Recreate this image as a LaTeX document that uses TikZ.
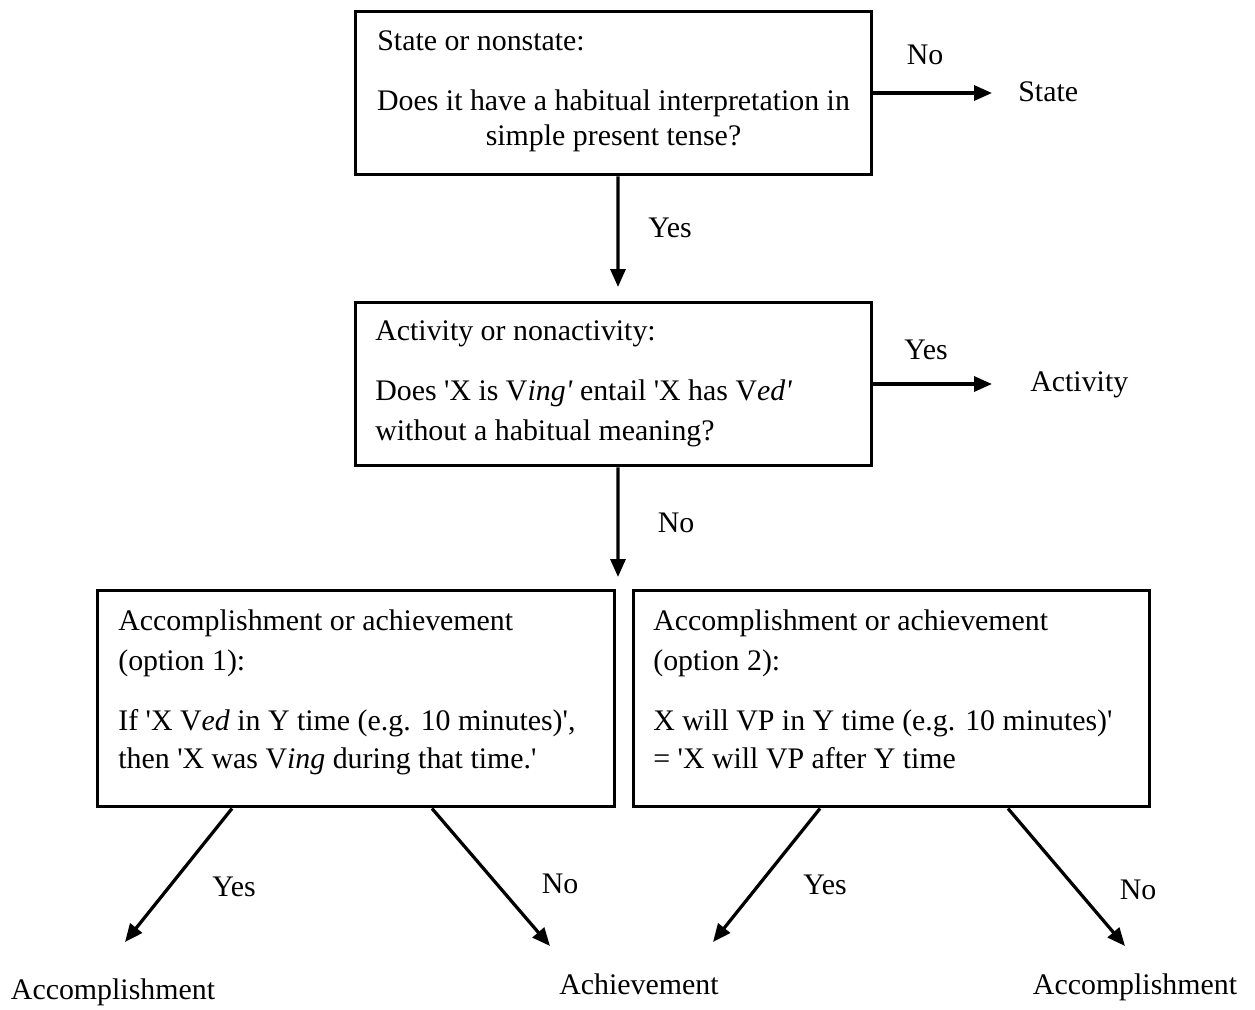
\documentclass[tikz,border=0pt]{standalone}
\usepackage{fontspec}
\setmainfont{Liberation Serif}
\usetikzlibrary{arrows.meta}
\newcommand\sq{\textquotesingle}
\begin{document}
\begin{tikzpicture}[x=0.02cm,y=-0.02cm,
  box/.style={draw,line width=0.06cm,minimum width=10.34cm,inner sep=0pt},
  txt/.style={inner sep=0pt,font=\fontsize{17}{20}\selectfont},
  arr/.style={line width=0.065cm,-{Triangle[length=0.36cm,width=0.3cm]}}]
\useasboundingbox (0,0) rectangle (1255,1009);
% boxes
\node[box,minimum height=3.28cm] (b1) at (613.5,93) {};
\node[box,minimum height=3.28cm] (b2) at (613.5,384) {};
\node[box,minimum height=4.34cm,minimum width=10.36cm] (b3) at (356,698.5) {};
\node[box,minimum height=4.34cm] (b4) at (891.5,698.5) {};
% box 1 text
\node[txt,anchor=base west] (t1a) at (377,50) {State or nonstate:};
\node[txt,anchor=base] (t1b) at (613.5,110) {Does it have a habitual interpretation in};
\node[txt,anchor=base] (t1c) at (613.5,145) {simple present tense?};
% box 2 text
\node[txt,anchor=base west] (t2a) at (375,340) {Activity or nonactivity:};
\node[txt,anchor=base west] (t2b) at (375,400) {Does \sq X is V\textit{ing\sq} entail \sq X has V\textit{ed\sq}};
\node[txt,anchor=base west] (t2c) at (375,440) {without a habitual meaning?};
% box 3 text
\node[txt,anchor=base west] (t3a) at (118,630) {Accomplishment or achievement};
\node[txt,anchor=base west] (t3b) at (118,670) {(option 1):};
\node[txt,anchor=base west] (t3c) at (118,730) {If \sq X V\textit{ed} in Y time (e.g. 10 minutes)\sq,};
\node[txt,anchor=base west] (t3d) at (118,768) {then \sq X was V\textit{ing} during that time.\sq};
% box 4 text
\node[txt,anchor=base west] (t4a) at (653,630) {Accomplishment or achievement};
\node[txt,anchor=base west] (t4b) at (653,670) {(option 2):};
\node[txt,anchor=base west] (t4c) at (653,730) {X will VP in Y time (e.g. 10 minutes)\sq};
\node[txt,anchor=base west] (t4d) at (653,768) {= \sq X will VP after Y time};
% end coordinates
\coordinate (e1) at (992,93);
\coordinate (e2) at (618,287);
\coordinate (e3) at (992,384);
\coordinate (e4) at (618,577);
\coordinate (e5) at (125,942);
\coordinate (e6) at (550,946);
\coordinate (e7) at (713,942);
\coordinate (e8) at (1125,946);
% connectors
\draw[arr] (b1.east) -- (e1);
\draw[arr] ([xshift=0.09cm]b1.south) -- (e2);
\draw[arr] (b2.east) -- (e3);
\draw[arr] ([xshift=0.09cm]b2.south) -- (e4);
\draw[arr] ([xshift=-2.48cm]b3.south) -- (e5);
\draw[arr] ([xshift=1.52cm]b3.south) -- (e6);
\draw[arr] ([xshift=-1.43cm]b4.south) -- (e7);
\draw[arr] ([xshift=2.33cm]b4.south) -- (e8);
% labels
\node[txt] (l1) at (925,55) {No};
\node[txt,anchor=west] (o1) at (1018,92) {State};
\node[txt] (l2) at (670,228) {Yes};
\node[txt] (l3) at (926,350) {Yes};
\node[txt,anchor=west] (o2) at (1030,385) {Activity};
\node[txt] (l4) at (676,523) {No};
\node[txt] (l5) at (234,887) {Yes};
\node[txt] (l6) at (560,884) {No};
\node[txt] (l7) at (825,885) {Yes};
\node[txt] (l8) at (1138,890) {No};
\node[txt] (o3) at (113,992) {Accomplishment};
\node[txt] (o4) at (639,984) {Achievement};
\node[txt] (o5) at (1135,987) {Accomplishment};
\end{tikzpicture}
\end{document}
